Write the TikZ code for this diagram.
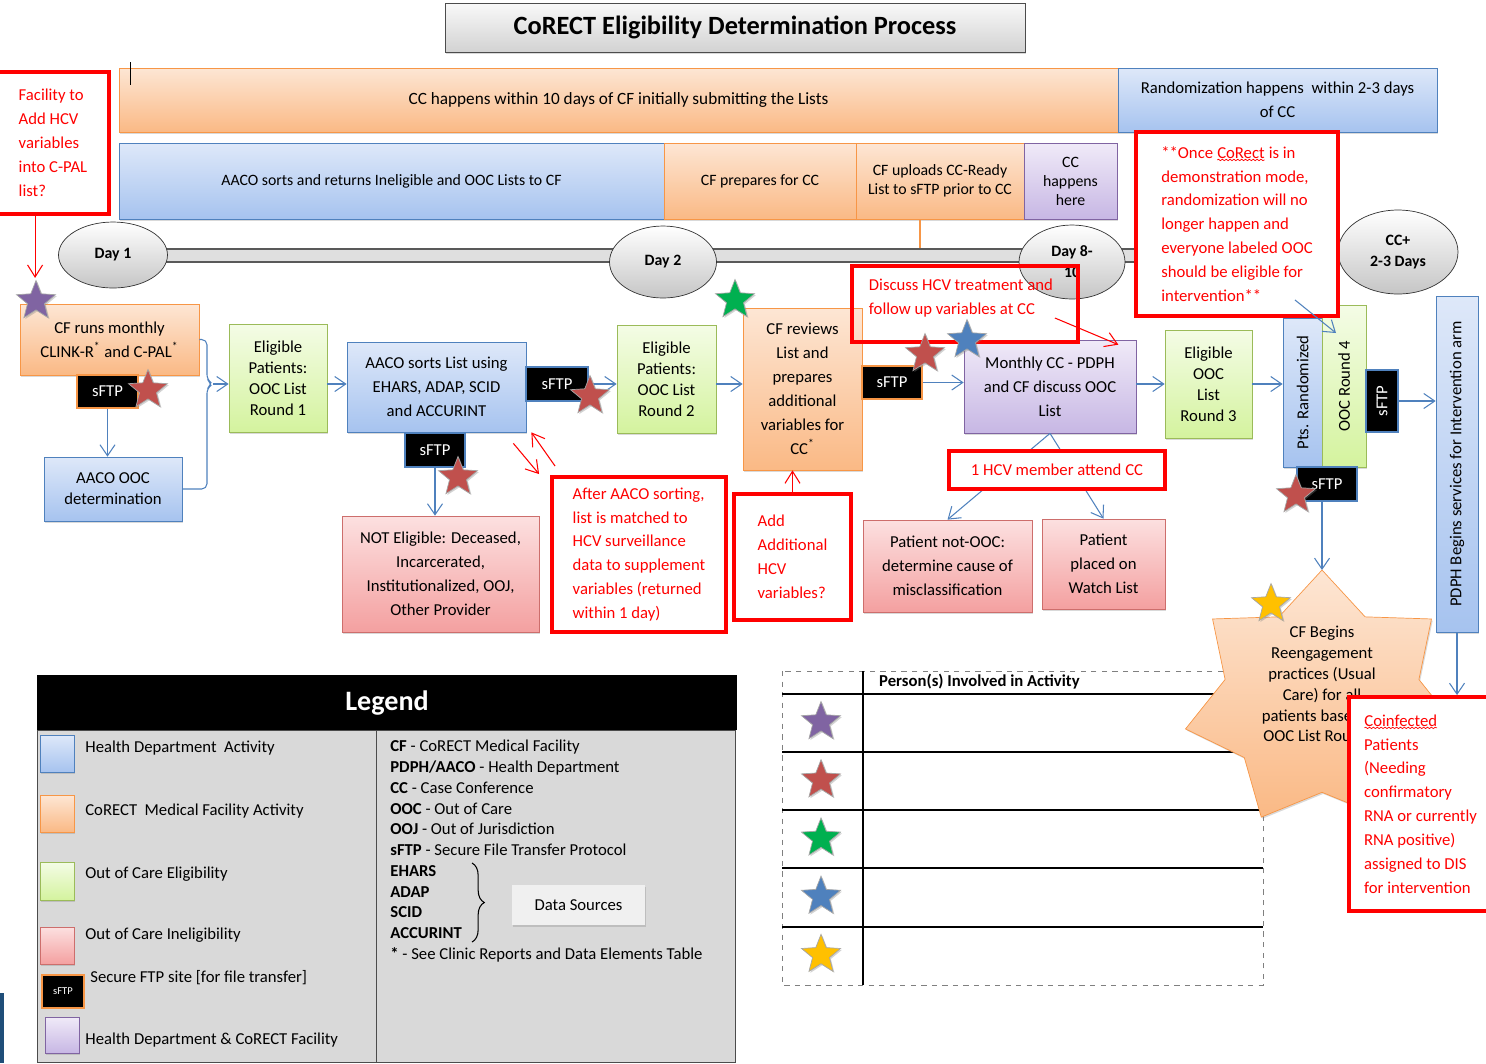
\documentclass[tikz,border=0pt]{standalone}
\usepackage{fontspec}
\setmainfont{Carlito}
\usetikzlibrary{arrows.meta,positioning,calc,shapes.geometric,shadows,decorations.pathreplacing,decorations.pathmorphing}
\definecolor{hdline}{RGB}{79,129,189}
\definecolor{hdtop}{RGB}{222,232,249}
\definecolor{hdbot}{RGB}{166,195,239}
\definecolor{cfline}{RGB}{247,150,70}
\definecolor{cftop}{RGB}{253,230,212}
\definecolor{cfbot}{RGB}{250,185,133}
\definecolor{okline}{RGB}{155,187,89}
\definecolor{oktop}{RGB}{244,252,230}
\definecolor{okbot}{RGB}{212,243,158}
\definecolor{noline}{RGB}{205,110,108}
\definecolor{notop}{RGB}{252,224,224}
\definecolor{nobot}{RGB}{244,160,160}
\definecolor{jtline}{RGB}{128,100,162}
\definecolor{jttop}{RGB}{240,234,248}
\definecolor{jtbot}{RGB}{199,183,228}
\definecolor{notered}{RGB}{255,0,0}
\definecolor{leggray}{RGB}{217,217,217}
\definecolor{spurple}{RGB}{128,100,162}
\definecolor{sred}{RGB}{192,80,77}
\definecolor{sgreen}{RGB}{0,176,80}
\definecolor{sblue}{RGB}{79,129,189}
\definecolor{syellow}{RGB}{255,192,0}
\definecolor{navystrip}{RGB}{31,78,121}
\tikzset{
  shd/.style={drop shadow={shadow xshift=0.7pt, shadow yshift=-0.9pt, opacity=0.3}},
  btxt/.style={font=\fontsize{9.5}{13.6}\selectfont},
  ttxt/.style={font=\fontsize{9.5}{11.9}\selectfont},
  bartxt/.style={font=\fontsize{9}{10.8}\selectfont},
  hdbox/.style={draw=hdline, top color=hdtop, bottom color=hdbot, align=center, shd, btxt},
  cfbox/.style={draw=cfline, top color=cftop, bottom color=cfbot, align=center, shd, btxt},
  okbox/.style={draw=okline, top color=oktop, bottom color=okbot, align=center, shd, ttxt},
  nobox/.style={draw=noline, top color=notop, bottom color=nobot, align=center, shd, btxt},
  jtbox/.style={draw=jtline, top color=jttop, bottom color=jtbot, align=center, shd, btxt},
  sftp/.style={fill=black, text=white, draw=#1, line width=1pt, font=\fontsize{9.5}{11}\selectfont},
  note/.style={draw=notered, line width=2.2pt, fill=white, text=notered, align=left,
               font=\fontsize{9.5}{13.6}\selectfont},
  dayoval/.style={ellipse, draw=black!80, top color=white, bottom color=gray!45, align=center,
                  inner sep=0pt, font=\fontsize{9}{12}\selectfont\bfseries},
  flow/.style={-{Straight Barb[length=2.2mm,width=3mm]}, hdline, semithick},
  redarr/.style={-{Straight Barb[length=2.4mm,width=3mm]}, notered, semithick},
  pstar/.style={star, star points=5, star point ratio=2.3, minimum size=0.82cm, inner sep=0pt,
                draw=gray!70, fill=#1, drop shadow={shadow xshift=0.8pt, shadow yshift=-0.8pt, opacity=0.35}},
  legtxt/.style={font=\fontsize{9.5}{11.8}\selectfont, anchor=west, inner sep=0pt},
}
% box from its pixel corners: name, x1, y1, x2, y2, style, text
\newcommand{\flowbox}[7]{\node[#6, minimum width={(#4-(#2))*0.02cm}, minimum height={(#5-(#3))*0.02cm}]
  (#1) at ({((#2)+(#4))/2},{((#3)+(#5))/2}) {#7};}
% spell-check squiggle under a word
\newcommand{\wavy}[1]{\tikz[baseline=(wv.base)]{\node[inner sep=0pt, outer sep=0pt, minimum size=0pt, anchor=center,
    draw=none, fill=none, rotate=0] (wv) {#1};
  \draw[notered, line width=0.4pt, decorate, decoration={snake, amplitude=0.4pt, segment length=2.2pt}]
    ([yshift=-1pt]wv.base west) -- ([yshift=-1pt]wv.base east);}}

\begin{document}
\begin{tikzpicture}[x=0.02cm, y=-0.02cm]
  \useasboundingbox (0,0) rectangle (1486,1063);
  % title and time bars
  \flowbox{title}{445}{3}{1025}{52}{draw=black!70, top color=gray!5, bottom color=gray!35, shd,
    font=\fontsize{15}{17}\selectfont\bfseries}{CoRECT Eligibility Determination Process}
  \flowbox{cctime}{119}{68}{1118}{132}{cfbox, font=\fontsize{9.8}{12}\selectfont}{CC happens within 10 days of CF initially submitting the Lists}
  \flowbox{randtime}{1118}{68}{1437}{132}{hdbox}{Randomization happens\ \ within 2-3 days\\of CC}
  \draw[black, thin] (130,62) -- (130,85);
  \flowbox{aacoret}{119}{143}{664}{219}{hdbox, bartxt}{AACO sorts and returns Ineligible and OOC Lists to CF}
  \flowbox{cfprep}{664}{143}{856}{219}{cfbox, bartxt}{CF prepares for CC}
  \flowbox{cfup}{856}{143}{1024}{219}{cfbox, bartxt}{CF uploads CC-Ready\\List to sFTP prior to CC}
  \flowbox{cchere}{1024}{143}{1117}{219}{jtbox, bartxt}{CC\\happens\\here}
  \coordinate (upfoot) at (920,250);
  \draw[cfline, line width=1.6pt] (cfup.south -| upfoot) -- (upfoot);

  % time line
  \draw[black!65, line width=0.9pt, fill=gray!25] (113,249) rectangle (1398,262);
  \node[dayoval, minimum width=2.18cm, minimum height=1.32cm] (day1) at (113,255) {Day 1};
  \node[dayoval, minimum width=2.14cm, minimum height=1.44cm] (day2) at (663,262) {Day 2};
  \node[dayoval, minimum width=2.12cm, minimum height=1.48cm] (day810) at (1072,262) {Day 8-\\10};
  \node[dayoval, minimum width=2.4cm, minimum height=1.68cm] (ccplus) at (1398,252) {CC+\\2-3 Days};

  % process boxes
  \flowbox{cfrun}{20}{304}{199}{375}{cfbox}{CF runs monthly\\CLINK-R\textsuperscript{*} and C-PAL\textsuperscript{*}}
  \flowbox{sftpa}{77}{375}{138}{408}{sftp=cfline}{sFTP}
  \flowbox{aacoooc}{44}{457}{182}{521}{hdbox, ttxt}{AACO OOC\\determination}
  \flowbox{elig1}{229}{324}{327}{432}{okbox}{Eligible\\Patients:\\OOC List\\Round 1}
  \flowbox{aacosort}{347}{342}{526}{432}{hdbox}{AACO sorts List using\\EHARS, ADAP, SCID\\and ACCURINT}
  \flowbox{sftpb}{405}{433}{465}{467}{sftp=hdline}{sFTP}
  \flowbox{sftpc}{526}{367}{588}{401}{sftp=hdline}{sFTP}
  \flowbox{notelig}{342}{516}{539}{632}{nobox}{NOT Eligible: Deceased,\\Incarcerated,\\Institutionalized, OOJ,\\Other Provider}
  \flowbox{elig2}{617}{325}{716}{433}{okbox}{Eligible\\Patients:\\OOC List\\Round 2}
  \flowbox{cfrev}{743}{308}{862}{470}{cfbox}{CF reviews\\List and\\prepares\\additional\\variables for\\CC\textsuperscript{*}}
  \flowbox{sftpd}{862}{366}{922}{399}{sftp=cfline}{sFTP}
  \flowbox{monthly}{964}{340}{1136}{433}{jtbox}{Monthly CC - PDPH\\and CF discuss OOC\\List}
  \flowbox{elig3}{1165}{330}{1252}{438}{okbox}{Eligible\\OOC\\List\\Round 3}
  \node[hdbox, rotate=90, minimum width=2.98cm, minimum height=0.78cm] (ptsrand) at (1302.5,392.5) {Pts. Randomized};
  \node[okbox, rotate=90, minimum width=3.24cm, minimum height=0.88cm] (ooc4) at (1344,386) {OOC Round 4};
  \node[sftp=hdline, rotate=90, minimum width=1.24cm, minimum height=0.64cm] (sftpe) at (1382,401) {sFTP};
  \node[hdbox, rotate=90, minimum width=6.72cm, minimum height=0.84cm] (pdph) at (1457,464) {PDPH Begins services for Intervention arm};
  \flowbox{sftpf}{1297}{467}{1357}{501}{sftp=hdline}{sFTP}
  \flowbox{nonooc}{863}{520}{1032}{612}{nobox}{Patient not-OOC:\\determine cause of\\misclassification}
  \flowbox{watch}{1042}{519}{1165}{609}{nobox}{Patient\\placed on\\Watch List}

  % connectors
  \coordinate (rowy) at (0,384);
  \coordinate (brtip) at (213,384);
  \draw[hdline, semithick, rounded corners=3pt] (cfrun.east) -| (207,380) -- (brtip) -- (207,388) |- (aacoooc.east);
  \draw[flow] (brtip) -- (brtip -| elig1.west);
  \draw[flow] (sftpa.south) -- (sftpa.south |- aacoooc.north);
  \draw[flow] (elig1.east |- rowy) -- (aacosort.west |- rowy);
  \draw[flow] (sftpb.south) -- (sftpb.south |- notelig.north);
  \draw[flow] (sftpc.east) -- (elig2.west |- sftpc.east);
  \draw[flow] (elig2.east |- rowy) -- (cfrev.west |- rowy);
  \draw[flow] (sftpd.east) -- (monthly.west |- sftpd.east);
  \draw[flow] (monthly.east |- rowy) -- (elig3.west |- rowy);
  \draw[flow] (elig3.east |- rowy) -- (ptsrand.north |- rowy);
  \draw[flow] (sftpe.south) -- (sftpe.south -| pdph.north);
  \draw[flow] (monthly.south) -- (nonooc.north);
  \draw[flow] (monthly.south) -- (watch.north);

  % persons table
  \draw[dashed, gray] (782,671) rectangle (1263,985);
  \draw[thick] (863,671) -- (863,985);
  \foreach \yy in {694,752,810,868,927} \draw[thick] (782,\yy) -- (1263,\yy);
  \node[anchor=west, font=\fontsize{9.5}{11}\selectfont\bfseries] (perhead) at (873,682) {Person(s) Involved in Activity};
  \foreach \col [count=\i] in {spurple,sred,sgreen,sblue,syellow}
    \node[pstar=\col] (tstar\i) at (821,{722+58.2*(\i-1)}) {};

  % reengagement burst
  \coordinate (bursttop) at (1322,570);
  \draw[cfline, top color=cftop, bottom color=cfbot, shd] (bursttop)
    \foreach \k in {1,...,13} { -- ({1322+(1-0.29*mod(\k,2))*140*cos(90+\k*360/14)},{700-(1-0.29*mod(\k,2))*130*sin(90+\k*360/14)}) } -- cycle;
  \node[ttxt, align=center] (bursttxt) at (1322,684) {CF Begins\\Reengagement\\practices (Usual\\Care) for all\\patients based on\\OOC List Round 4};
  \draw[flow] (sftpf.south -| bursttop) -- (bursttop);

  % red notes
  \flowbox{addfac}{-3}{72}{109}{214}{note}{Facility to\\Add HCV\\variables\\into C-PAL\\list?}
  \draw[redarr] ([shift={(40,0)}]addfac.south west) -- ++(0,62);
  \flowbox{oncebox}{1136}{132}{1338}{316}{note}{**Once \wavy{CoRect} is in\\demonstration mode,\\randomization will no\\longer happen and\\everyone labeled OOC\\should be eligible for\\intervention**}
  \draw[flow] ([shift={(-45,-18)}]oncebox.south east) -- ([shift={(-8,-53)}]ooc4.center);
  \flowbox{discussbox}{852}{266}{1078}{342}{note, fill=none}{}
  \node[note, draw=none, fill=none, anchor=north west, inner sep=0pt] (discuss) at (867,277) {Discuss HCV treatment and\\follow up variables at CC};
  \draw[redarr] ([shift={(-25,14)}]discussbox.east) -- ([shift={(-18,5)}]monthly.north east);
  \flowbox{afterbox}{552}{477}{726}{632}{note}{After AACO sorting,\\list is matched to\\HCV surveillance\\data to supplement\\variables (returned\\within 1 day)}
  \draw[redarr] ([shift={(-13,11)}]aacosort.south east) -- ([shift={(-11,-1)}]afterbox.north west);
  \draw[redarr] ([shift={(5,-9)}]afterbox.north west) -- ([shift={(5,0)}]aacosort.south east);
  \flowbox{addbox}{734}{494}{851}{620}{note}{Add\\Additional\\HCV\\variables?}
  \draw[redarr] (addbox.north) -- (addbox.north |- cfrev.south);
  \flowbox{hcvbox}{949}{451}{1165}{489}{note, align=center}{1 HCV member attend CC}

  % stars
  \node[pstar=spurple] (st1) at (36,301) {};
  \node[pstar=sred] (st2) at (148,390) {};
  \node[pstar=sred] (st3) at (458,477) {};
  \node[pstar=sred] (st4) at (590,396) {};
  \node[pstar=sgreen] (st5) at (735,300) {};
  \node[pstar=sred] (st6) at (925,354) {};
  \node[pstar=sblue] (st7) at (967,340) {};
  \node[pstar=sred] (st8) at (1296,495) {};
  \node[pstar=syellow] (st9) at (1271,604) {};

  \flowbox{coinf}{1349}{697}{1492}{911}{note}{\wavy{Coinfected}\\Patients\\(Needing\\confirmatory\\RNA or currently\\RNA positive)\\assigned to DIS\\for intervention}
  \draw[flow] (pdph.west) -- (pdph.west |- coinf.north);

  % legend
  \fill[navystrip] (0,993) rectangle (4,1063);
  \flowbox{leghead}{37}{675}{737}{730}{fill=black, text=white, font=\fontsize{16}{18}\selectfont\bfseries}{Legend}
  \flowbox{legbody}{37}{730}{735}{1062}{draw=black!70, fill=leggray}{}
  \draw[black!70] (376,730) -- (376,1062);
  \flowbox{swhd}{40}{735}{74}{772}{hdbox}{}
  \flowbox{swcf}{40}{795}{74}{832}{cfbox}{}
  \flowbox{swok}{40}{862}{74}{900}{okbox}{}
  \flowbox{swno}{40}{927}{74}{964}{nobox}{}
  \flowbox{swsftp}{42}{975}{84}{1008}{sftp=cfline, font=\fontsize{6}{7}\selectfont}{sFTP}
  \flowbox{swjt}{45}{1017}{79}{1053}{jtbox}{}
  \node[legtxt] (lghd) at (85,748) {Health Department\ \ Activity};
  \node[legtxt] (lgcf) at (85,811) {CoRECT\ \ Medical Facility Activity};
  \node[legtxt] (lgok) at (85,874) {Out of Care Eligibility};
  \node[legtxt] (lgno) at (85,935) {Out of Care Ineligibility};
  \node[legtxt] (lgsftp) at (90,978) {Secure FTP site [for file transfer]};
  \node[legtxt] (lgjt) at (85,1040) {Health Department \& CoRECT Facility};
  \node[legtxt, anchor=north west, align=left] (abbr) at (390,740) {%
    \textbf{CF} - CoRECT Medical Facility\\
    \textbf{PDPH/AACO} - Health Department\\
    \textbf{CC} - Case Conference\\
    \textbf{OOC} - Out of Care\\
    \textbf{OOJ} - Out of Jurisdiction\\
    \textbf{sFTP} - Secure File Transfer Protocol\\
    \textbf{EHARS}\\
    \textbf{ADAP}\\
    \textbf{SCID}\\
    \textbf{ACCURINT}\\
    \textbf{*} - See Clinic Reports and Data Elements Table};
  \draw[decorate, decoration={brace, amplitude=7pt}, semithick] (472,863) -- (472,942);
  \flowbox{datasrc}{512}{885}{645}{925}{fill=gray!12, shd, font=\fontsize{9.5}{11}\selectfont}{Data Sources}
\end{tikzpicture}
\end{document}
